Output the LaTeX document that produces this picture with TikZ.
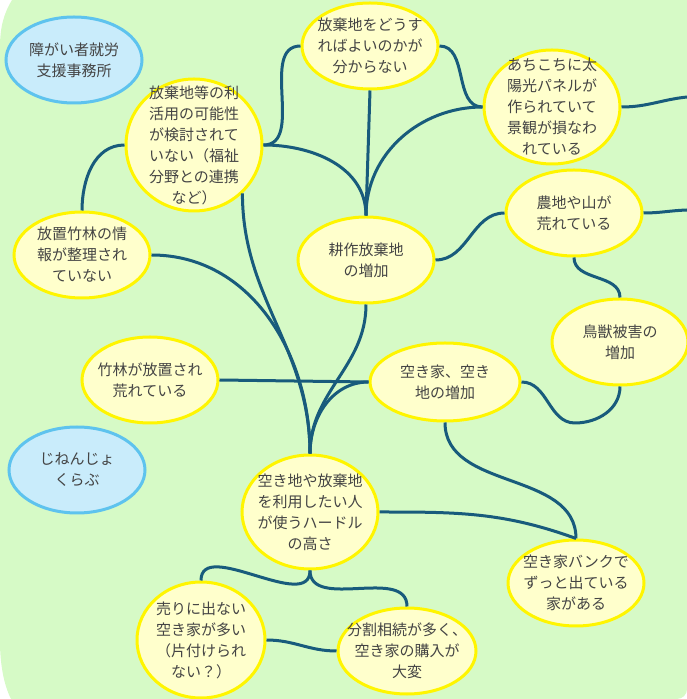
\documentclass[tikz,border=0pt]{standalone}
\usepackage{fontspec}
\newfontfamily\jpfont{Noto Sans CJK JP}
\usepackage{tikz}
\usetikzlibrary{shapes.geometric}

\definecolor{bggreen}{HTML}{D6FAC6}
\definecolor{nodeyellow}{HTML}{FFFFCC}
\definecolor{rimyellow}{HTML}{FFF500}
\definecolor{nodeblue}{HTML}{C9ECFB}
\definecolor{rimblue}{HTML}{5EC3EE}
\definecolor{linkblue}{HTML}{185B7C}
\definecolor{txtgray}{HTML}{444444}

\begin{document}
\begin{tikzpicture}[
    x=1pt, y=1pt,
    issue/.style={ellipse, draw=rimyellow, line width=3pt, fill=nodeyellow, minimum width=136pt, minimum height=86pt, inner sep=-25pt, align=center, text=txtgray, font=\jpfont\fontsize{15}{21}\selectfont},
    group/.style={issue, draw=rimblue, fill=nodeblue},
    link/.style={draw=linkblue, line width=3pt}
]
\useasboundingbox (0,0) rectangle (687,699);
\fill[bggreen] (12,699) .. controls (4,686) and (0,672) .. (0,652) -- (0,58) .. controls (0,34) and (4,14) .. (11,0) -- (677,0) arc[start angle=-90, end angle=0, radius=10] -- (687,699) -- cycle;

\node[group] (shuro) at (74,639) {障がい者就労\\支援事務所};
\node[issue, minimum height=132pt] (riyou) at (194,554) {放棄地等の利\\活用の可能性\\が検討されて\\いない（福祉\\分野との連携\\など）};
\node[issue] (dousuru) at (370,653) {放棄地をどうす\\ればよいのかが\\分からない};
\node[issue, minimum height=114pt] (taiyo) at (552,592) {あちこちに太\\陽光パネルが\\作られていて\\景観が損なわ\\れている};
\node[issue] (noti) at (574,486) {農地や山が\\荒れている};
\node[issue] (kousaku) at (366,439) {耕作放棄地\\の増加};
\node[issue] (jouhou) at (82,444) {放置竹林の情\\報が整理され\\ていない};
\node[issue] (chikurin) at (150,319) {竹林が放置され\\荒れている};
\node[issue, minimum width=150pt, minimum height=78pt] (akiya) at (445,317) {空き家、空き\\地の増加};
\node[issue] (chouju) at (620,357) {鳥獣被害の\\増加};
\node[group] (jinenjo) at (77,229) {じねんじょ\\くらぶ};
\node[issue, minimum height=114pt] (hurdle) at (310,187) {空き地や放棄地\\を利用したい人\\が使うハードル\\の高さ};
\node[issue, minimum width=128pt, minimum height=116pt] (urini) at (201,59) {売りに出ない\\空き家が多い\\（片付けられ\\ない？）};
\node[issue, minimum width=138pt] (bunkatsu) at (407,48) {分割相続が多く、\\空き家の購入が\\大変};
\node[issue] (bank) at (576,116) {空き家バンクで\\ずっと出ている\\家がある};
\coordinate (taiyoend) at (687,602);
\coordinate (notiend) at (687,489);
\coordinate (akiyadip) at (575,276);

\draw[link] (riyou.west) to[out=180,in=90] (jouhou.north);
\draw[link] (riyou.east) to[out=0,in=180] (dousuru.west);
\draw[link] (riyou.east) to[out=0,in=90] (kousaku.north);
\draw[link] (dousuru.south) -- (kousaku.north);
\draw[link] (taiyo.west) to[out=180,in=90] (kousaku.north);
\draw[link] (dousuru.east) to[out=0,in=180] (taiyo.west);
\draw[link] (taiyo.east) to[out=0,in=186] (taiyoend);
\draw[link] (noti.east) to[out=0,in=182] (notiend);
\draw[link] (noti.west) to[out=180,in=0] (kousaku.east);
\draw[link] (noti.south) to[out=-90,in=90] (chouju.north);
\draw[link] (akiya.east) to[out=0,in=180] (akiyadip) to[out=0,in=-90] (chouju.south);
\draw[link] (chikurin.east) -- (akiya.west);
\draw[link] (riyou.-45) to[out=-90,in=90] (hurdle.north);
\draw[link] (jouhou.east) to[out=0,in=90] (hurdle.north);
\draw[link] (kousaku.south) to[out=-90,in=90] (hurdle.north);
\draw[link] (akiya.west) to[out=180,in=90] (hurdle.north);
\draw[link] (akiya.south) to[out=-90,in=90] (bank.north);
\draw[link] (hurdle.east) to[out=0,in=160] (bank.north);
\draw[link] (hurdle.south) to[out=-90,in=90] (urini.north);
\draw[link] (hurdle.south) to[out=-90,in=90] (bunkatsu.north);
\draw[link] (urini.east) to[out=0,in=180] (bunkatsu.west);
\end{tikzpicture}
\end{document}
